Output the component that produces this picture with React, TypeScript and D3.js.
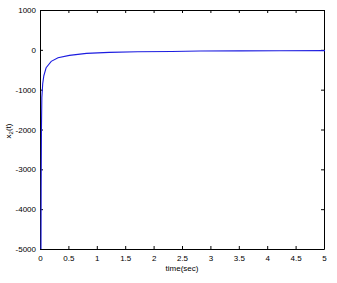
import { useEffect, useRef } from 'react';
import * as d3 from 'd3';

// values
const timeSec = [0, 0.003, 0.008, 0.015, 0.03, 0.05, 0.09, 0.18, 0.3, 0.5, 0.8, 1.2, 1.7, 2.3, 2.8, 3.5, 4.2, 5];
const x2 = [-5000, -3500, -2000, -1200, -850, -650, -450, -290, -200, -140, -90, -65, -50, -40, -30, -25, -22, -20];
const xTicks = [0, 0.5, 1, 1.5, 2, 2.5, 3, 3.5, 4, 4.5, 5];
const yTicks = [1000, 0, -1000, -2000, -3000, -4000, -5000];

const width = 337;
const height = 283;
const margin = { top: 10, right: 13, bottom: 34, left: 40 };

const App = () => {
  const ref = useRef<SVGSVGElement>(null);

  useEffect(() => {
    const svg = d3.select(ref.current);
    svg.selectAll('*').remove();

    const x = d3.scaleLinear().domain([0, 5]).range([margin.left, width - margin.right]);
    const y = d3.scaleLinear().domain([-5000, 1000]).range([height - margin.bottom, margin.top]);
    const font = 'Liberation Sans, Arial, sans-serif';

    // inward ticks on all sides (box)
    const tk = 3;
    const bottom = svg.append('g').attr('transform', `translate(0,${y(-5000)})`)
      .call(d3.axisBottom(x).tickValues(xTicks).tickSizeInner(-tk).tickSizeOuter(0).tickPadding(6).tickFormat((d) => String(d)));
    const top = svg.append('g').attr('transform', `translate(0,${y(1000)})`)
      .call(d3.axisTop(x).tickValues(xTicks).tickSizeInner(-tk).tickSizeOuter(0).tickFormat(() => ''));
    const left = svg.append('g').attr('transform', `translate(${x(0)},0)`)
      .call(d3.axisLeft(y).tickValues(yTicks).tickSizeInner(-tk).tickSizeOuter(0).tickPadding(4).tickFormat((d) => String(d)));
    const right = svg.append('g').attr('transform', `translate(${x(5)},0)`)
      .call(d3.axisRight(y).tickValues(yTicks).tickSizeInner(-tk).tickSizeOuter(0).tickFormat(() => ''));

    [bottom, top, left, right].forEach((g) => {
      g.selectAll('.domain').attr('stroke', '#000').attr('stroke-width', 1);
      g.selectAll('line').attr('stroke', '#000');
      g.selectAll('text').attr('font-family', font).attr('font-size', 8).attr('fill', '#000');
    });

    // line drawn over the axes so the steep start stays visible
    const line = d3
      .line<number>()
      .x((d, i) => x(timeSec[i]) + 1)
      .y((d) => y(d));
    svg
      .append('path')
      .datum(x2)
      .attr('fill', 'none')
      .attr('stroke', '#1c1ce0')
      .attr('stroke-width', 1.1)
      .attr('d', line);

    // labels
    svg.append('text')
      .attr('x', (x(0) + x(5)) / 2)
      .attr('y', 271)
      .attr('text-anchor', 'middle')
      .attr('font-family', font)
      .attr('font-size', 8)
      .text('time(sec)');

    const yl = svg.append('text')
      .attr('transform', `translate(11,131) rotate(-90)`)
      .attr('text-anchor', 'middle')
      .attr('font-family', font)
      .attr('font-size', 8);
    yl.append('tspan').text('x');
    yl.append('tspan').attr('font-size', 6).attr('dy', 2).text('2');
    yl.append('tspan').attr('dy', -2).text('(t)');
  }, []);

  return (
    <svg
      ref={ref}
      width={width}
      height={height}
      style={{ position: 'absolute', left: 0, top: 0, background: '#fff' }}
    />
  );
};

export default App;
